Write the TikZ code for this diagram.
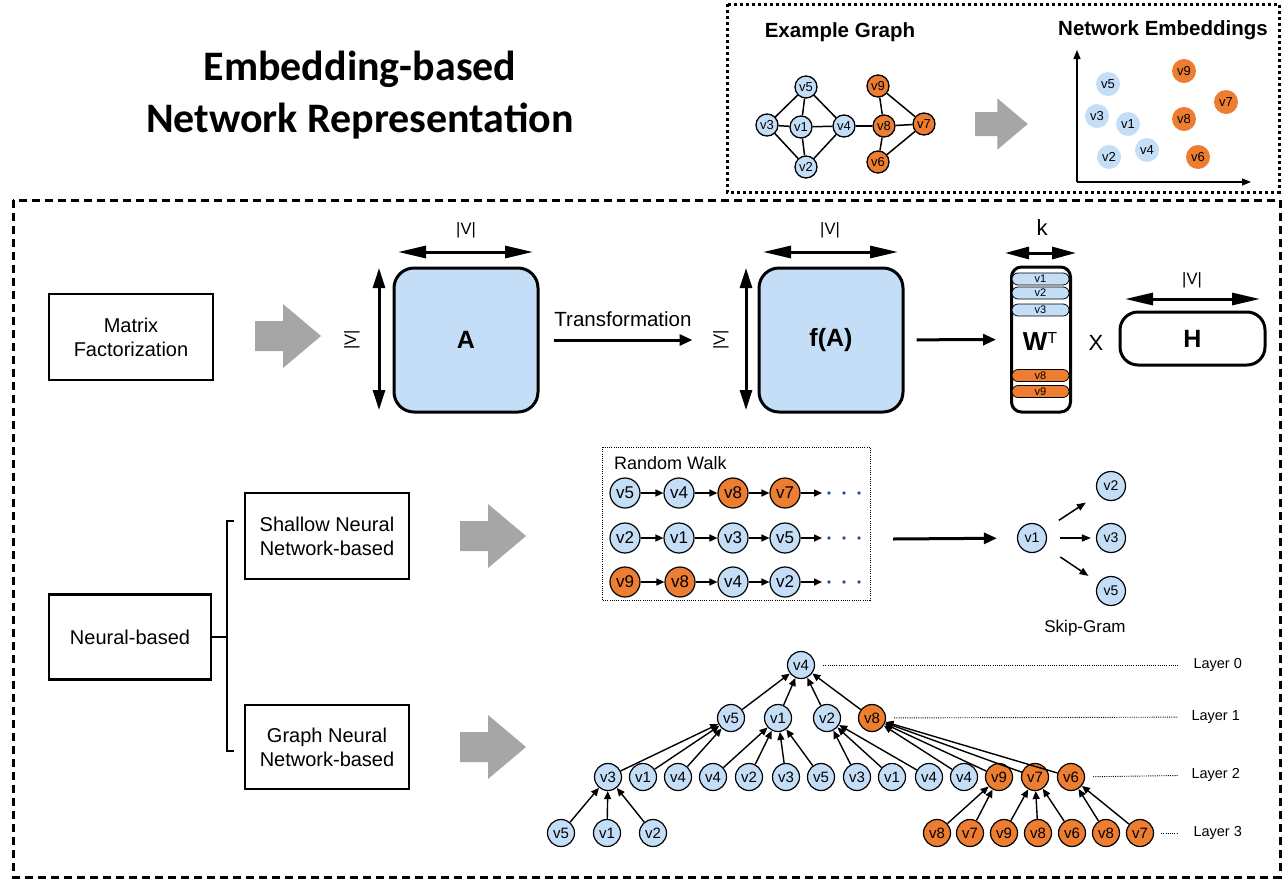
\documentclass[tikz,border=0pt]{standalone}
\usepackage{fontspec}
\setmainfont{Liberation Sans}
\newfontfamily\titlefont{Carlito}
\usetikzlibrary{arrows.meta}
\newcommand\fsz[1]{\fontsize{#1}{#1}\selectfont}
\definecolor{lb}{RGB}{196,222,248}
\definecolor{og}{RGB}{237,125,49}
\definecolor{ga}{RGB}{166,166,166}
\definecolor{dotblue}{RGB}{31,78,158}
\begin{document}
\begin{tikzpicture}[x=1pt,y=-1pt,
  eg/.style={circle,draw,line width=1.3pt,minimum size=22pt,inner sep=0pt,font=\fsz{13}},
  ep/.style={circle,minimum size=24pt,inner sep=0pt,font=\fsz{13}},
  rw/.style={circle,draw,line width=1.2pt,minimum size=30pt,inner sep=0pt,font=\fsz{17}},
  sg/.style={circle,draw,line width=1.2pt,minimum size=29pt,inner sep=0pt,font=\fsz{14}},
  gn/.style={circle,draw,line width=1.2pt,minimum size=27pt,inner sep=0pt,font=\fsz{15}},
  B/.style={fill=lb}, O/.style={fill=og},
  catbox/.style={draw,line width=2.5pt,inner sep=0pt,align=center,font=\fontsize{20}{24}\selectfont},
  matbox/.style={draw,line width=3pt,rounded corners=20pt,fill=lb,inner sep=0pt,minimum width=144pt,minimum height=144pt,font=\bfseries\fsz{25}},
  pill/.style={draw,line width=0.8pt,rounded corners=6pt,minimum width=57pt,minimum height=12pt,inner sep=0pt,font=\fsz{11}},
  dimarr/.style={line width=3pt,{Triangle[length=28pt,width=12pt]}-{Triangle[length=28pt,width=12pt]}},
  vdimarr/.style={line width=3pt,{Triangle[length=20pt,width=12pt]}-{Triangle[length=20pt,width=12pt]}},
  dimlab/.style={font=\fsz{16.5}},
  bigarr/.style={line width=3pt,-{Triangle[length=13pt,width=11pt]}},
  rwarr/.style={line width=1.5pt,-{Triangle[length=8pt,width=7pt]}},
  sgarr/.style={line width=1.5pt,-{Triangle[length=9pt,width=7pt]}},
  garr/.style={line width=1.4pt,-{Triangle[length=8pt,width=7pt]}},
  egedge/.style={line width=1.5pt},
  lay/.style={line width=0.9pt,dash pattern=on 1pt off 1.2pt},
  laylab/.style={font=\fsz{14.5},anchor=west},
  grayarrow/.pic={\fill[ga] (0,-15) -- (28,-15) -- (28,-32) -- (66,0) -- (28,32) -- (28,15) -- (0,15) -- cycle;}
]
\useasboundingbox (0,0) rectangle (1288,884);

% title
\node[font=\titlefont\bfseries\fsz{42}] (t1) at (360,69) {Embedding-based};
\node[font=\titlefont\bfseries\fsz{42}] (t2) at (360,121) {Network Representation};

% top-right example box
\draw[line width=3pt,dash pattern=on 3pt off 3pt] (727,4) rectangle (1279,192);
\node[font=\bfseries\fsz{20.5}] (hg) at (840,32) {Example Graph};
\node[font=\bfseries\fsz{20.5}] (he) at (1163,30) {Network Embeddings};

\node[eg,B] (e5) at (806,87) {v5};
\node[eg,B] (e3) at (767,125) {v3};
\node[eg,B] (e1) at (801,127) {v1};
\node[eg,B] (e4) at (844,126) {v4};
\node[eg,B] (e2) at (806,167) {v2};
\node[eg,O] (e9) at (878,86) {v9};
\node[eg,O] (e8) at (884,126) {v8};
\node[eg,O] (e7) at (924,124) {v7};
\node[eg,O] (e6) at (878,162) {v6};
\foreach \a/\b in {e5/e3,e5/e1,e5/e4,e3/e1,e3/e2,e1/e4,e1/e2,e4/e2,e4/e8,e9/e8,e9/e7,e8/e7,e8/e6,e6/e7}
  \draw[egedge] (\a) -- (\b);

\pic[scale=0.8] at (975,124) {grayarrow};

\coordinate (ax0) at (1077,182);
\coordinate (axy) at (1077,50);
\coordinate (axx) at (1251,182);
\draw[line width=1.3pt,-{Triangle[length=9pt,width=7pt]}] (ax0) -- (axy);
\draw[line width=1.3pt,-{Triangle[length=9pt,width=7pt]}] (ax0) -- (axx);
\node[ep,B] (q5) at (1108,84) {v5};
\node[ep,B] (q3) at (1097,116) {v3};
\node[ep,B] (q1) at (1128,124) {v1};
\node[ep,B] (q2) at (1109,157) {v2};
\node[ep,B] (q4) at (1147,150) {v4};
\node[ep,O] (q9) at (1184,71) {v9};
\node[ep,O] (q7) at (1226,102) {v7};
\node[ep,O] (q8) at (1184,119) {v8};
\node[ep,O] (q6) at (1198,157) {v6};

% main dashed box
\draw[line width=3pt,dash pattern=on 8pt off 5pt] (13,200) rectangle (1280,877);

% category boxes
\node[catbox,minimum width=164pt,minimum height=86pt] (mf) at (131,337) {Matrix\\Factorization};
\node[catbox,minimum width=162pt,minimum height=85pt] (nb) at (130,637) {Neural-based};
\node[catbox,minimum width=164pt,minimum height=86pt] (sn) at (327,536) {Shallow Neural\\Network-based};
\node[catbox,minimum width=164pt,minimum height=84pt] (gnb) at (327,747) {Graph Neural\\Network-based};
\coordinate (brt) at (234,521);
\coordinate (brb) at (234,751);
\draw[line width=1.5pt] (nb.east) -- (227,637);
\draw[line width=1.5pt] (brt) -- (227,521) -- (227,751) -- (brb);

\pic at (255,336) {grayarrow};
\pic at (460,536) {grayarrow};
\pic at (460,747) {grayarrow};

% matrix factorization row
\node[matbox] (A) at (466,340) {A};
\node[matbox] (fA) at (831,340) {f(A)};
\coordinate (a1) at (398,252); \coordinate (a2) at (533,252);
\draw[dimarr] (a1) -- (a2);
\node[dimlab] (la1) at (466,230) {|V|};
\coordinate (a3) at (379,268); \coordinate (a4) at (379,410);
\draw[vdimarr] (a3) -- (a4);
\node[dimlab,rotate=90] (la2) at (352,340) {|V|};
\coordinate (f1) at (763,252); \coordinate (f2) at (898,252);
\draw[dimarr] (f1) -- (f2);
\node[dimlab] (lf1) at (830,230) {|V|};
\coordinate (f3) at (746,268); \coordinate (f4) at (746,410);
\draw[vdimarr] (f3) -- (f4);
\node[dimlab,rotate=90] (lf2) at (721,340) {|V|};

\draw[bigarr,shorten <=14pt,shorten >=65pt] (A) -- (fA);
\node[font=\fsz{20.5}] (tr) at (623,319) {Transformation};

\node[draw,line width=3pt,rounded corners=10pt,minimum width=59pt,minimum height=145pt,inner sep=0pt] (W) at (1041,339.5) {};
\node[pill,B] (w1) at (1040.5,279) {v1};
\node[pill,B] (w2) at (1040.5,293) {v2};
\node[pill,B] (w3) at (1040.5,310) {v3};
\node[pill,O] (w8) at (1040.5,375.5) {v8};
\node[pill,O] (w9) at (1040.5,391.5) {v9};
\node (wt) at (1040,341) {{\bfseries\fsz{26}W}{\fsz{16}\raisebox{7pt}{T}}};
\draw[bigarr,shorten <=12pt,shorten >=14pt] (fA) -- (W);
\coordinate (k1) at (1005,253); \coordinate (k2) at (1076,253);
\draw[line width=3pt,{Triangle[length=24pt,width=12pt]}-{Triangle[length=24pt,width=12pt]}] (k1) -- (k2);
\node[font=\fsz{22}] (kl) at (1042,228) {k};
\node[font=\fsz{22}] (xx) at (1096,343) {X};
\node[draw,line width=3pt,rounded corners=18pt,minimum width=145pt,minimum height=53pt,inner sep=0pt,font=\bfseries\fsz{25}] (H) at (1192.5,338.5) {H};
\coordinate (h1) at (1125,299); \coordinate (h2) at (1260,299);
\draw[dimarr] (h1) -- (h2);
\node[dimlab] (lh) at (1192,280) {|V|};

% random walk
\draw[line width=0.8pt,dash pattern=on 1pt off 1.2pt] (602,447) rectangle (870,600);
\node[font=\fsz{18},anchor=west,inner sep=0pt] (rwl) at (614,463) {Random Walk};
\foreach \n/\x/\y/\l/\c in {
  r11/625/493/v5/B, r12/679/493/v4/B, r13/733/493/v8/O, r14/785/493/v7/O,
  r21/625/538/v2/B, r22/679/538/v1/B, r23/733/538/v3/B, r24/785/538/v5/B,
  r31/625/582/v9/O, r32/680/582/v8/O, r33/733/582/v4/B, r34/785/582/v2/B}
  \node[rw,\c] (\n) at (\x,\y) {\l};
\foreach \r/\y in {1/493,2/538,3/582}{
  \draw[rwarr] (r\r1) -- (r\r2);
  \draw[rwarr] (r\r2) -- (r\r3);
  \draw[rwarr] (r\r3) -- (r\r4);
  \coordinate (re\r) at (822,\y);
  \draw[rwarr] (r\r4) -- (re\r);
  \foreach \dx in {829,844,859} \fill[dotblue] (\dx,\y) circle (1.8pt);
}

% skip-gram
\node[sg,B] (s1) at (1032,538) {v1};
\node[sg,B] (s2) at (1111,486) {v2};
\node[sg,B] (s3) at (1111,538) {v3};
\node[sg,B] (s5) at (1111,591) {v5};
\coordinate (rwo) at (893,539);
\draw[bigarr,shorten >=20pt] (rwo) -- (s1);
\draw[sgarr,shorten <=17pt,shorten >=15pt] (s1) -- (s2);
\draw[sgarr,shorten <=13pt,shorten >=5pt] (s1) -- (s3);
\draw[sgarr,shorten <=19pt,shorten >=12pt] (s1) -- (s5);
\node[font=\fsz{17}] (sgl) at (1085,628) {Skip-Gram};

% GNN tree
\node[gn,B] (g0) at (801,665) {v4};
\node[gn,B] (p1) at (731,718) {v5};
\node[gn,B] (p2) at (778,718) {v1};
\node[gn,B] (p3) at (827,718) {v2};
\node[gn,O] (p4) at (872,718) {v8};
\foreach \n/\x/\l/\c in {a1/608/v3/B, a2/643/v1/B, a3/678/v4/B, a4/713/v4/B, a5/749/v2/B, a6/786/v3/B, a7/821/v5/B, a8/857/v3/B, a9/892/v1/B, a10/929/v4/B, a11/964/v4/B, a12/999/v9/O, a13/1035/v7/O, a14/1071/v6/O}
  \node[gn,\c] (\n) at (\x,777) {\l};
\foreach \n/\x/\l/\c in {b1/561/v5/B, b2/607/v1/B, b3/653/v2/B, b4/937/v8/O, b5/970/v7/O, b6/1004/v9/O, b7/1038/v8/O, b8/1072/v6/O, b9/1106/v8/O, b10/1140/v7/O}
  \node[gn,\c] (\n) at (\x,833) {\l};
\foreach \c/\p in {p1/g0,p2/g0,p3/g0,p4/g0,a1/p1,a2/p1,a3/p1,a4/p2,a5/p2,a6/p2,a7/p2,a8/p3,a9/p3,a10/p3,a11/p4,a12/p4,a13/p4,a14/p4,b1/a1,b2/a1,b3/a1,b4/a12,b5/a12,b6/a13,b7/a13,b8/a13,b9/a14,b10/a14}
  \draw[garr] (\c) -- (\p);

\node[laylab] (L0) at (1190,665) {Layer 0};
\node[laylab] (L1) at (1188,717) {Layer 1};
\node[laylab] (L2) at (1188,775) {Layer 2};
\node[laylab] (L3) at (1190,833) {Layer 3};
\draw[lay,shorten <=8pt,shorten >=12pt] (g0) -- (L0);
\draw[lay,shorten <=8pt,shorten >=10pt] (p4) -- (L1);
\draw[lay,shorten <=8pt,shorten >=10pt] (a14) -- (L2);
\draw[lay,shorten <=7pt,shorten >=12pt] (b10) -- (L3);
\end{tikzpicture}
\end{document}
